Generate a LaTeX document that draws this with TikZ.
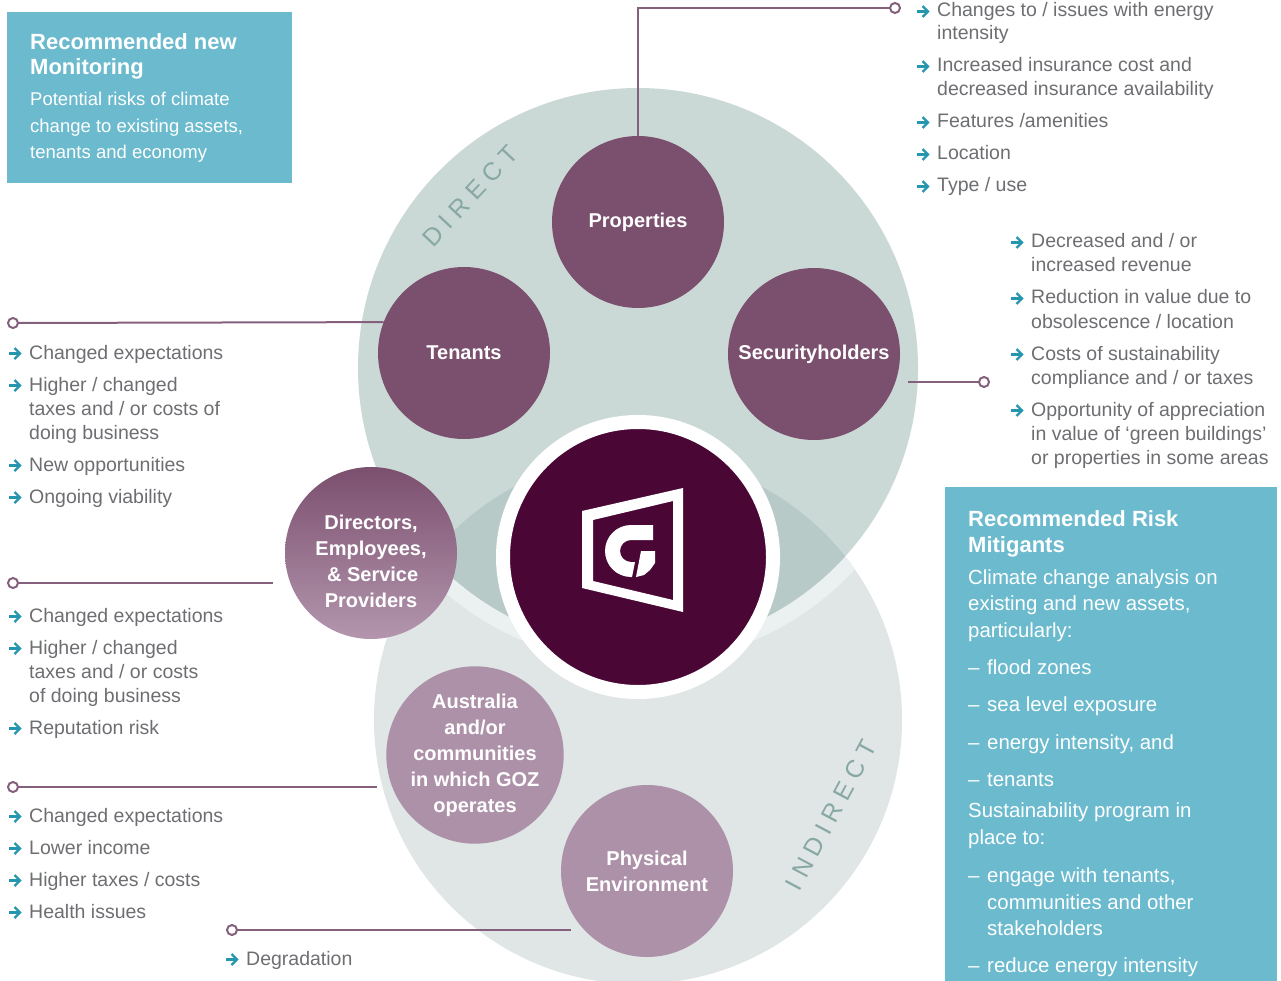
\documentclass[tikz,border=0pt]{standalone}
\usepackage{fontspec}
\setmainfont{Liberation Sans}
\newfontfamily\spacedfont[LetterSpace=27]{Liberation Sans}
\definecolor{topc}{HTML}{CBD9D6}
\definecolor{lensc}{HTML}{B8CAC8}
\definecolor{botc}{HTML}{DFE6E5}
\definecolor{bandc}{HTML}{EBF0F0}
\definecolor{plum}{HTML}{7B4F6E}
\definecolor{mauve}{HTML}{AD91A8}
\definecolor{mauvelt}{HTML}{B396AE}
\definecolor{logoc}{HTML}{4A0735}
\definecolor{boxc}{HTML}{6BBACE}
\definecolor{listgray}{HTML}{6D6E71}
\definecolor{arrc}{HTML}{2496AE}
\definecolor{connc}{HTML}{85607C}
\definecolor{labc}{HTML}{88A8A3}
\pgfdeclarelayer{back}
\pgfdeclarelayer{conn}
\pgfsetlayers{back,conn,main}
\newcommand\dashmark{\makebox[19pt][l]{–}}
\newcommand\arritem[4]{\node[listtxt] (#1) at (#2+21,#3) {#4}; \pic at (#2,#3-5.5) {arrowpic};}
\newcommand\contitem[4]{\node[listtxt] (#1) at (#2,#3) {#4};}
\newcommand\boxline[4]{\node[boxtxt] (#1) at (#2,#3) {#4};}
\tikzset{
  listtxt/.style={anchor=base west, inner sep=0pt, text=listgray, font=\fontsize{19.5}{24}\selectfont},
  boxtxt/.style={anchor=base west, inner sep=0pt, text=white, font=\fontsize{20.4}{26}\selectfont},
  boxtitle/.style={anchor=base west, inner sep=0pt, text=white, font=\bfseries\fontsize{22}{26}\selectfont},
  stakecircle/.style={circle, inner sep=0pt, minimum size=172pt, text=white, align=center, font=\bfseries\fontsize{20}{26}\selectfont},
  stakelabel/.style={inner sep=0pt, text=white, align=center, font=\bfseries\fontsize{20}{26}\selectfont},
  conn/.style={draw=connc, line width=2pt},
  endmark/.style={circle, draw=connc, line width=2pt, fill=white, inner sep=0pt, minimum size=10pt},
  panel/.style={fill=boxc, inner sep=0pt, anchor=north west},
  dirlbl/.style={inner sep=0pt, text=labc, font=\spacedfont\fontsize{25}{25}\selectfont},
  arrowpic/.pic={
    \draw[arrc, line width=2.3pt] (1,0) -- (12,0);
    \draw[arrc, line width=2.3pt, line join=miter] (6.5,-5.5) -- (12,0) -- (6.5,5.5);
  }
}
\begin{document}
\begin{tikzpicture}[x=1pt,y=-1pt]
\useasboundingbox (0,0) rectangle (1281,981);

% big circles
\begin{pgfonlayer}{back}
\fill[botc] (638,720) circle[radius=264pt];
\begin{scope}
  \clip (638,720) circle[radius=264pt];
  \fill[bandc] (638,368) circle[radius=296pt];
\end{scope}
\fill[topc] (638,368) circle[radius=280pt];
\begin{scope}
  \clip (638,720) circle[radius=264pt];
  \fill[lensc] (638,368) circle[radius=280pt];
\end{scope}
\end{pgfonlayer}

\node[dirlbl, rotate=47] (dirlab) at (470,196) {DIRECT};
\node[dirlbl, rotate=62] (indirlab) at (831,815) {INDIRECT};

% boxes
\node[panel, minimum width=285pt, minimum height=171pt] (boxA) at (7,12) {};
\node[panel, minimum width=332pt, minimum height=494pt] (boxB) at (945,487) {};

\node[boxtitle] (a1) at (30,50) {Recommended new};
\node[boxtitle] (a2) at (30,75) {Monitoring};
\node[boxtxt, font=\fontsize{18.5}{27}\selectfont] (a3) at (30,106) {Potential risks of climate};
\node[boxtxt, font=\fontsize{18.5}{27}\selectfont] (a4) at (30,133) {change to existing assets,};
\node[boxtxt, font=\fontsize{18.5}{27}\selectfont] (a5) at (30,159) {tenants and economy};

\node[boxtitle] (b1) at (968,526) {Recommended Risk};
\node[boxtitle] (b2) at (968,552) {Mitigants};
\boxline{b3}{968}{584}{Climate change analysis on}
\boxline{b4}{968}{610}{existing and new assets,}
\boxline{b5}{968}{637}{particularly:}
\boxline{b6}{968}{674}{\dashmark flood zones}
\boxline{b7}{968}{711}{\dashmark sea level exposure}
\boxline{b8}{968}{749}{\dashmark energy intensity, and}
\boxline{b9}{968}{786}{\dashmark tenants}
\boxline{b10}{968}{817}{Sustainability program in}
\boxline{b11}{968}{844}{place to:}
\boxline{b12}{968}{882}{\dashmark engage with tenants,}
\boxline{b13}{987}{909}{communities and other}
\boxline{b14}{987}{935}{stakeholders}
\boxline{b15}{968}{972}{\dashmark reduce energy intensity}

% stakeholder circles
\node[stakecircle, fill=plum] (prop) at (638,222) {Properties};
\node[stakecircle, fill=plum] (ten) at (464,353) {Tenants};
\node[stakecircle, fill=plum] (sec) at (814,354) {Securityholders};
\node[stakecircle, top color=plum, bottom color=mauvelt] (dir) at (371,553) {};
\node[stakelabel] (dirtxt) at (371,561) {Directors,\\Employees,\\\,\& Service\\Providers};
\node[stakecircle, fill=mauve] (aus) at (475,755) {Australia\\and/or\\communities\\in which GOZ\\operates};
\node[stakecircle, fill=mauve] (phys) at (647,871) {Physical\\Environment};

% logo
\node[circle, fill=logoc, draw=white, line width=14pt, minimum size=270pt, inner sep=0pt] (logo) at (638,557) {};
\fill[white, even odd rule] (582,511) -- (683,488) -- (683,612) -- (582,588) -- cycle
  (593,520) -- (673,501) -- (673,600) -- (593,581) -- cycle;
\fill[white] (653,525) -- (631,525) arc[start angle=90, end angle=270, radius=26pt]
  -- (632,577) -- (635,562) -- (631,562) arc[start angle=270, end angle=90, radius=11pt]
  -- (653,540) -- cycle;
\fill[white] (641,551) -- (655,551) -- (655,563) -- (650,570) -- (644,575) -- (636,577) -- cycle;

% connector end markers
\node[endmark] (m1) at (13,323) {};
\node[endmark] (m2) at (13,583) {};
\node[endmark] (m3) at (13,787) {};
\node[endmark] (m4) at (895,8) {};
\node[endmark] (m5) at (984,382) {};
\node[endmark] (m6) at (232,930) {};
\coordinate (c2) at (273,583);
\coordinate (c3) at (377,787);
\coordinate (c5) at (908,382);
\coordinate (c6) at (571,930);

\begin{pgfonlayer}{conn}
\draw[conn] (m1) -- (ten.159.6);
\draw[conn] (m2) -- (c2);
\draw[conn] (m3) -- (c3);
\draw[conn] (prop.north) |- (m4);
\draw[conn] (c5) -- (m5);
\draw[conn] (m6) -- (c6);
\end{pgfonlayer}

% lists
\arritem{t1}{8}{359}{Changed expectations}
\arritem{t2}{8}{391}{Higher / changed}
\contitem{t2b}{29}{415}{taxes and / or costs of}
\contitem{t2c}{29}{439}{doing business}
\arritem{t3}{8}{471}{New opportunities}
\arritem{t4}{8}{503}{Ongoing viability}

\arritem{d1}{8}{622}{Changed expectations}
\arritem{d2}{8}{654}{Higher / changed}
\contitem{d2b}{29}{678}{taxes and / or costs}
\contitem{d2c}{29}{702}{of doing business}
\arritem{d3}{8}{734}{Reputation risk}

\arritem{c1}{8}{822}{Changed expectations}
\arritem{cc2}{8}{854}{Lower income}
\arritem{cc3}{8}{886}{Higher taxes / costs}
\arritem{cc4}{8}{918}{Health issues}

\arritem{e1}{225}{965}{Degradation}

\arritem{p1}{916}{17}{Changes to / issues with energy}
\contitem{p1b}{937}{40}{intensity}
\arritem{p2}{916}{72}{Increased insurance cost and}
\contitem{p2b}{937}{96}{decreased insurance availability}
\arritem{p3}{916}{128}{Features /amenities}
\arritem{p4}{916}{160}{Location}
\arritem{p5}{916}{192}{Type / use}

\arritem{s1}{1010}{248}{Decreased and / or}
\contitem{s1b}{1031}{272}{increased revenue}
\arritem{s2}{1010}{304}{Reduction in value due to}
\contitem{s2b}{1031}{328}{obsolescence / location}
\arritem{s3}{1010}{360}{Costs of sustainability}
\contitem{s3b}{1031}{384}{compliance and / or taxes}
\arritem{s4}{1010}{416}{Opportunity of appreciation}
\contitem{s4b}{1031}{440}{in value of ‘green buildings’}
\contitem{s4c}{1031}{464}{or properties in some areas}
\end{tikzpicture}
\end{document}
